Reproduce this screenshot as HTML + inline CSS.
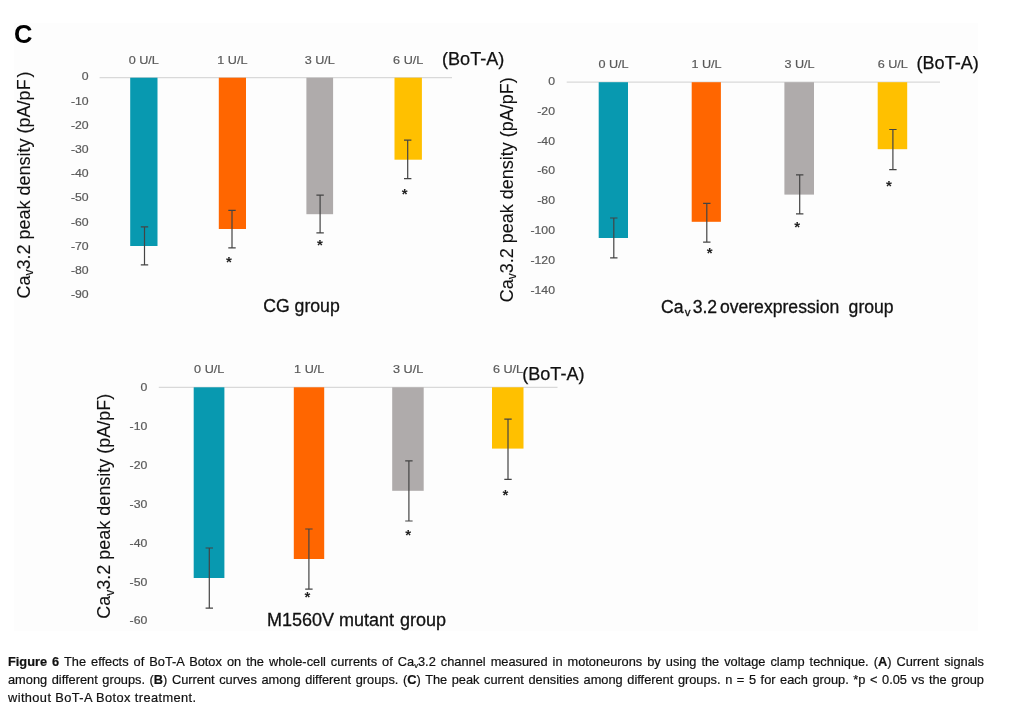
<!DOCTYPE html>
<html lang="en"><head><meta charset="utf-8"><title>Figure 6</title>
<style>
html,body{margin:0;padding:0;background:#fff}
body{width:1011px;height:709px;position:relative;overflow:hidden;font-family:"Liberation Sans",sans-serif}
.cap{position:absolute;left:8px;width:976px;font-size:12.8px;line-height:17.8px;color:#111;-webkit-text-stroke:0.2px #111;white-space:nowrap;text-align:justify;text-align-last:justify;height:17.8px;overflow:visible}
.cap.last{text-align-last:left;letter-spacing:0.4px}
.cap sub{font-size:0.6em;vertical-align:baseline;position:relative;top:2px;line-height:0}
</style></head><body>
<svg width="1011" height="709" viewBox="0 0 1011 709" style="position:absolute;left:0;top:0" font-family="'Liberation Sans', sans-serif">
<rect x="14" y="23" width="964" height="608" fill="#fdfdfd"/>
<text x="14" y="43" font-size="25.5" font-weight="bold" fill="#000">C</text>
<line x1="99.6" y1="77.7" x2="452" y2="77.7" stroke="#D9D9D9" stroke-width="1.3"/>
<text transform="translate(88.7 80.4) scale(1.05 1)" text-anchor="end" font-size="11.7" fill="#595959" stroke="#595959" stroke-width="0.2">0</text>
<text transform="translate(88.7 104.6) scale(1.05 1)" text-anchor="end" font-size="11.7" fill="#595959" stroke="#595959" stroke-width="0.2">-10</text>
<text transform="translate(88.7 128.8) scale(1.05 1)" text-anchor="end" font-size="11.7" fill="#595959" stroke="#595959" stroke-width="0.2">-20</text>
<text transform="translate(88.7 153.0) scale(1.05 1)" text-anchor="end" font-size="11.7" fill="#595959" stroke="#595959" stroke-width="0.2">-30</text>
<text transform="translate(88.7 177.2) scale(1.05 1)" text-anchor="end" font-size="11.7" fill="#595959" stroke="#595959" stroke-width="0.2">-40</text>
<text transform="translate(88.7 201.4) scale(1.05 1)" text-anchor="end" font-size="11.7" fill="#595959" stroke="#595959" stroke-width="0.2">-50</text>
<text transform="translate(88.7 225.7) scale(1.05 1)" text-anchor="end" font-size="11.7" fill="#595959" stroke="#595959" stroke-width="0.2">-60</text>
<text transform="translate(88.7 249.9) scale(1.05 1)" text-anchor="end" font-size="11.7" fill="#595959" stroke="#595959" stroke-width="0.2">-70</text>
<text transform="translate(88.7 274.1) scale(1.05 1)" text-anchor="end" font-size="11.7" fill="#595959" stroke="#595959" stroke-width="0.2">-80</text>
<text transform="translate(88.7 298.3) scale(1.05 1)" text-anchor="end" font-size="11.7" fill="#595959" stroke="#595959" stroke-width="0.2">-90</text>
<rect x="130.2" y="77.7" width="27.3" height="168.3" fill="#0899B0"/>
<rect x="218.8" y="77.7" width="27.2" height="151.3" fill="#FF6600"/>
<rect x="306.4" y="77.7" width="26.7" height="136.5" fill="#AFABAB"/>
<rect x="394.5" y="77.7" width="27.4" height="82.0" fill="#FFC000"/>
<path d="M144.5 226.9V264.9M140.8 226.9H148.2M140.8 264.9H148.2" stroke="#444" stroke-width="1.2" fill="none"/>
<path d="M232 210.3V247.9M228.3 210.3H235.7M228.3 247.9H235.7" stroke="#444" stroke-width="1.2" fill="none"/>
<path d="M320.1 195.2V232.9M316.4 195.2H323.8M316.4 232.9H323.8" stroke="#444" stroke-width="1.2" fill="none"/>
<path d="M407.7 140.1V178.6M404.0 140.1H411.4M404.0 178.6H411.4" stroke="#444" stroke-width="1.2" fill="none"/>
<text x="229" y="266.8" text-anchor="middle" font-size="15" font-weight="bold" fill="#222">*</text>
<text x="319.9" y="250.1" text-anchor="middle" font-size="15" font-weight="bold" fill="#222">*</text>
<text x="404.7" y="198.9" text-anchor="middle" font-size="15" font-weight="bold" fill="#222">*</text>
<text transform="translate(143.8 63.5) scale(1.08 1)" text-anchor="middle" font-size="11.7" fill="#595959" stroke="#595959" stroke-width="0.2">0 U/L</text>
<text transform="translate(232.4 63.5) scale(1.08 1)" text-anchor="middle" font-size="11.7" fill="#595959" stroke="#595959" stroke-width="0.2">1 U/L</text>
<text transform="translate(319.8 63.5) scale(1.08 1)" text-anchor="middle" font-size="11.7" fill="#595959" stroke="#595959" stroke-width="0.2">3 U/L</text>
<text transform="translate(408.2 63.5) scale(1.08 1)" text-anchor="middle" font-size="11.7" fill="#595959" stroke="#595959" stroke-width="0.2">6 U/L</text>
<text x="442" y="65.3" font-size="18.1" fill="#111" stroke="#111" stroke-width="0.25">(BoT-A)</text>
<text transform="translate(29.8 298.5) rotate(-90)" font-size="18" fill="#111" stroke="#111" stroke-width="0.1">Ca<tspan font-size="12.0" dy="3.2">v</tspan><tspan dy="-3.2">3.2 peak density (pA/pF<tspan dx="2">)</tspan></tspan></text>
<text transform="translate(263.2 311.5) scale(0.965 1)" font-size="18.3" fill="#111" stroke="#111" stroke-width="0.3">CG group</text>
<line x1="566.7" y1="82.2" x2="940" y2="82.2" stroke="#D9D9D9" stroke-width="1.3"/>
<text transform="translate(555.0 84.7) scale(1.05 1)" text-anchor="end" font-size="11.7" fill="#595959" stroke="#595959" stroke-width="0.2">0</text>
<text transform="translate(555.0 114.6) scale(1.05 1)" text-anchor="end" font-size="11.7" fill="#595959" stroke="#595959" stroke-width="0.2">-20</text>
<text transform="translate(555.0 144.5) scale(1.05 1)" text-anchor="end" font-size="11.7" fill="#595959" stroke="#595959" stroke-width="0.2">-40</text>
<text transform="translate(555.0 174.4) scale(1.05 1)" text-anchor="end" font-size="11.7" fill="#595959" stroke="#595959" stroke-width="0.2">-60</text>
<text transform="translate(555.0 204.3) scale(1.05 1)" text-anchor="end" font-size="11.7" fill="#595959" stroke="#595959" stroke-width="0.2">-80</text>
<text transform="translate(555.0 234.2) scale(1.05 1)" text-anchor="end" font-size="11.7" fill="#595959" stroke="#595959" stroke-width="0.2">-100</text>
<text transform="translate(555.0 264.1) scale(1.05 1)" text-anchor="end" font-size="11.7" fill="#595959" stroke="#595959" stroke-width="0.2">-120</text>
<text transform="translate(555.0 294.0) scale(1.05 1)" text-anchor="end" font-size="11.7" fill="#595959" stroke="#595959" stroke-width="0.2">-140</text>
<rect x="598.7" y="82.2" width="29.3" height="155.8" fill="#0899B0"/>
<rect x="691.7" y="82.2" width="29.2" height="139.6" fill="#FF6600"/>
<rect x="784.4" y="82.2" width="29.6" height="112.4" fill="#AFABAB"/>
<rect x="877.7" y="82.2" width="29.5" height="67.0" fill="#FFC000"/>
<path d="M613.8 218V257.8M610.1 218H617.5M610.1 257.8H617.5" stroke="#444" stroke-width="1.2" fill="none"/>
<path d="M706.8 203.4V242.2M703.1 203.4H710.5M703.1 242.2H710.5" stroke="#444" stroke-width="1.2" fill="none"/>
<path d="M799.7 174.9V213.8M796.0 174.9H803.4M796.0 213.8H803.4" stroke="#444" stroke-width="1.2" fill="none"/>
<path d="M892.9 129.5V169.6M889.2 129.5H896.6M889.2 169.6H896.6" stroke="#444" stroke-width="1.2" fill="none"/>
<text x="709.6" y="258.1" text-anchor="middle" font-size="15" font-weight="bold" fill="#222">*</text>
<text x="797.2" y="232.3" text-anchor="middle" font-size="15" font-weight="bold" fill="#222">*</text>
<text x="888.8" y="190.6" text-anchor="middle" font-size="15" font-weight="bold" fill="#222">*</text>
<text transform="translate(613.5 68) scale(1.08 1)" text-anchor="middle" font-size="11.7" fill="#595959" stroke="#595959" stroke-width="0.2">0 U/L</text>
<text transform="translate(706.5 68) scale(1.08 1)" text-anchor="middle" font-size="11.7" fill="#595959" stroke="#595959" stroke-width="0.2">1 U/L</text>
<text transform="translate(799.5 68) scale(1.08 1)" text-anchor="middle" font-size="11.7" fill="#595959" stroke="#595959" stroke-width="0.2">3 U/L</text>
<text transform="translate(892.8 68) scale(1.08 1)" text-anchor="middle" font-size="11.7" fill="#595959" stroke="#595959" stroke-width="0.2">6 U/L</text>
<text x="916.5" y="68.6" font-size="18.1" fill="#111" stroke="#111" stroke-width="0.25">(BoT-A)</text>
<text transform="translate(512.7 302.3) rotate(-90)" font-size="18" fill="#111" stroke="#111" stroke-width="0.1">Ca<tspan font-size="12.0" dy="3.2">v</tspan><tspan dy="-3.2">3.2 peak density (pA/pF<tspan dx="0">)</tspan></tspan></text>
<text transform="translate(661 313) scale(1 1)" font-size="17.6" fill="#111" stroke="#111" stroke-width="0.3">Ca<tspan x="23.7" font-size="11.5" dy="3">v</tspan><tspan x="31.7" dy="-3">3.2</tspan><tspan x="58.9">overexpression</tspan><tspan x="187.6">group</tspan></text>
<line x1="158.8" y1="387.3" x2="557.5" y2="387.3" stroke="#D9D9D9" stroke-width="1.3"/>
<text transform="translate(147.3 391.0) scale(1.05 1)" text-anchor="end" font-size="11.7" fill="#595959" stroke="#595959" stroke-width="0.2">0</text>
<text transform="translate(147.3 429.9) scale(1.05 1)" text-anchor="end" font-size="11.7" fill="#595959" stroke="#595959" stroke-width="0.2">-10</text>
<text transform="translate(147.3 468.8) scale(1.05 1)" text-anchor="end" font-size="11.7" fill="#595959" stroke="#595959" stroke-width="0.2">-20</text>
<text transform="translate(147.3 507.7) scale(1.05 1)" text-anchor="end" font-size="11.7" fill="#595959" stroke="#595959" stroke-width="0.2">-30</text>
<text transform="translate(147.3 546.6) scale(1.05 1)" text-anchor="end" font-size="11.7" fill="#595959" stroke="#595959" stroke-width="0.2">-40</text>
<text transform="translate(147.3 585.5) scale(1.05 1)" text-anchor="end" font-size="11.7" fill="#595959" stroke="#595959" stroke-width="0.2">-50</text>
<text transform="translate(147.3 624.4) scale(1.05 1)" text-anchor="end" font-size="11.7" fill="#595959" stroke="#595959" stroke-width="0.2">-60</text>
<rect x="193.7" y="387.3" width="30.7" height="190.7" fill="#0899B0"/>
<rect x="293.8" y="387.3" width="30.4" height="171.7" fill="#FF6600"/>
<rect x="392.2" y="387.3" width="31.5" height="103.5" fill="#AFABAB"/>
<rect x="492" y="387.3" width="31.5" height="61.3" fill="#FFC000"/>
<path d="M209.3 548V608.2M205.6 548H213.0M205.6 608.2H213.0" stroke="#444" stroke-width="1.2" fill="none"/>
<path d="M308.9 529V589.2M305.2 529H312.6M305.2 589.2H312.6" stroke="#444" stroke-width="1.2" fill="none"/>
<path d="M408.9 460.9V521M405.2 460.9H412.6M405.2 521H412.6" stroke="#444" stroke-width="1.2" fill="none"/>
<path d="M508 419.1V479.3M504.3 419.1H511.7M504.3 479.3H511.7" stroke="#444" stroke-width="1.2" fill="none"/>
<text x="307.5" y="602.3" text-anchor="middle" font-size="15" font-weight="bold" fill="#222">*</text>
<text x="408.1" y="540.4" text-anchor="middle" font-size="15" font-weight="bold" fill="#222">*</text>
<text x="505.5" y="500.3" text-anchor="middle" font-size="15" font-weight="bold" fill="#222">*</text>
<text transform="translate(209.2 372.5) scale(1.08 1)" text-anchor="middle" font-size="11.7" fill="#595959" stroke="#595959" stroke-width="0.2">0 U/L</text>
<text transform="translate(309.2 372.5) scale(1.08 1)" text-anchor="middle" font-size="11.7" fill="#595959" stroke="#595959" stroke-width="0.2">1 U/L</text>
<text transform="translate(408.1 372.5) scale(1.08 1)" text-anchor="middle" font-size="11.7" fill="#595959" stroke="#595959" stroke-width="0.2">3 U/L</text>
<text transform="translate(508 372.5) scale(1.08 1)" text-anchor="middle" font-size="11.7" fill="#595959" stroke="#595959" stroke-width="0.2">6 U/L</text>
<text x="522.2" y="380.2" font-size="18.1" fill="#111" stroke="#111" stroke-width="0.25">(BoT-A)</text>
<text transform="translate(110.4 618.8) rotate(-90)" font-size="18" fill="#111" stroke="#111" stroke-width="0.1">Ca<tspan font-size="12.0" dy="3.2">v</tspan><tspan dy="-3.2">3.2 peak density (pA/pF<tspan dx="0">)</tspan></tspan></text>
<text transform="translate(267 626.2) scale(1 1)" font-size="18" fill="#111" stroke="#111" stroke-width="0.3">M1560V mutant<tspan x="132.9">group</tspan></text>
</svg>
<div class="cap" style="top:653.3px"><b>Figure 6</b> The effects of BoT-A Botox on the whole-cell currents of Ca<sub>v</sub>3.2 channel measured in motoneurons by using the voltage clamp technique. (<b>A</b>) Current signals</div>
<div class="cap" style="top:671.1px">among different groups. (<b>B</b>) Current curves among different groups. (<b>C</b>) The peak current densities among different groups. n = 5 for each group. *p &lt; 0.05 vs the group</div>
<div class="cap last" style="top:688.9px">without BoT-A Botox treatment.</div>
</body></html>
